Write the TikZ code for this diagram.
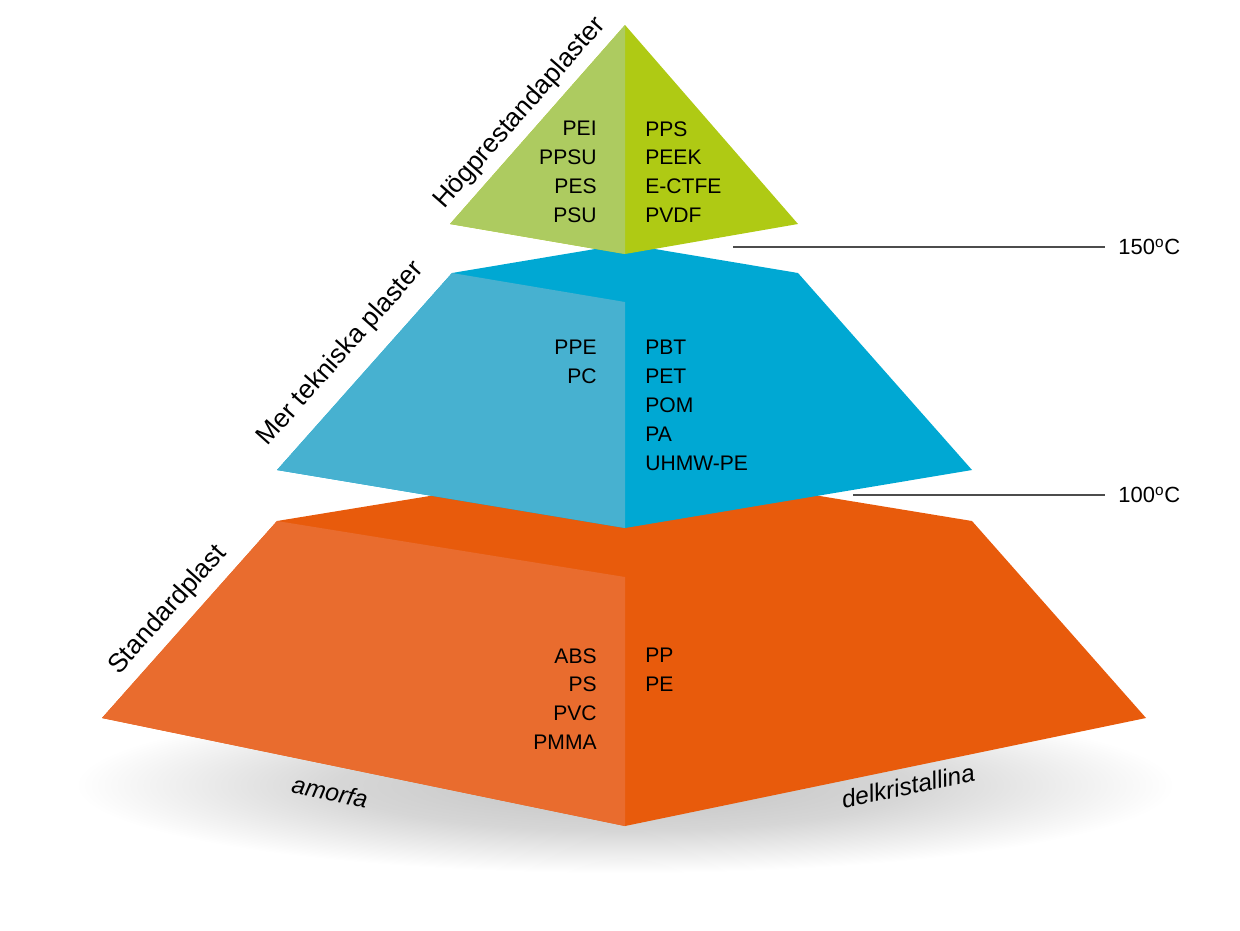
\documentclass[tikz,border=0pt]{standalone}
\usepackage{fontspec}
\setmainfont{Liberation Sans}
\usepackage{xcolor}
\usepackage{tikz}
\usetikzlibrary{positioning}
\definecolor{greenL}{HTML}{ADCB60}
\definecolor{greenR}{HTML}{AFCA14}
\definecolor{blueL}{HTML}{47B1D0}
\definecolor{blueR}{HTML}{00A8D3}
\definecolor{orangeL}{HTML}{E96C2E}
\definecolor{orangeR}{HTML}{E85B0C}
\pgfdeclareradialshading{floorshadow}{\pgfpoint{0bp}{0bp}}{color(0bp)=(black!24); color(13bp)=(black!16); color(25bp)=(white); color(50bp)=(white)}

\begin{document}
\begin{tikzpicture}[x=0.02cm,y=-0.02cm,
  plist/.style={font=\fontsize{12}{16.4}\selectfont,inner sep=0pt},
  lcol/.style={plist,align=right,anchor=north east},
  rcol/.style={plist,align=left,anchor=north west},
  tier/.style={font=\fontsize{15}{18}\selectfont,inner sep=0pt},
  basetxt/.style={font=\fontsize{14}{16}\selectfont\itshape,inner sep=0pt},
  temp/.style={font=\fontsize{12.5}{15}\selectfont,anchor=west,inner xsep=7.4pt,inner ysep=0pt},
  tline/.style={draw=black!70,line width=1.1pt}]
\useasboundingbox (0,0) rectangle (1240,930);
\shade[shading=floorshadow] (625,785) ellipse [x radius=550, y radius=88];
\fill[orangeR] (102,718) -- (277,521) -- (625,464) -- (972,521) -- (1146,718) -- (625,826) -- cycle;
\fill[orangeL] (277,521) -- (625,577) -- (625,826) -- (102,718) -- cycle;
\fill[blueR] (277,470) -- (452,273) -- (625,244) -- (798,273) -- (972,470) -- (625,528) -- cycle;
\fill[blueL] (452,273) -- (625,302) -- (625,528) -- (277,470) -- cycle;
\fill[greenR] (450,224) -- (625,25) -- (798,224) -- (625,254) -- cycle;
\fill[greenL] (625,25) -- (625,254) -- (450,224) -- cycle;

\node[lcol] (hpA) at (597,121) {PEI\\PPSU\\PES\\PSU};
\node[rcol] (hpB) at (645,121) {PPS\\PEEK\\E-CTFE\\PVDF};
\node[lcol] (mtA) at (597,340) {PPE\\PC};
\node[rcol] (mtB) at (645,340) {PBT\\PET\\POM\\PA\\UHMW-PE};
\node[lcol] (spA) at (597,648) {ABS\\PS\\PVC\\PMMA};
\node[rcol] (spB) at (645,648) {PP\\PE};

\node[tier,rotate=48.7] (hp) at (520,113) {Högprestandaplaster};
\node[tier,rotate=48.4] (mt) at (341,354) {Mer tekniska plaster};
\node[tier,rotate=48.4] (sp) at (168,610) {Standardplast};
\node[basetxt,rotate=-11.7] (am) at (330,792) {amorfa};
\node[basetxt,rotate=11.7] (dk) at (908,786) {delkristallina};

\coordinate (t150s) at (733,247);
\coordinate (t100s) at (853,495);
\node[temp] (t150) at (1105,247) {150\textsuperscript{o}C};
\node[temp] (t100) at (1105,495) {100\textsuperscript{o}C};
\draw[tline] (t150s) -- (t150.west);
\draw[tline] (t100s) -- (t100.west);
\end{tikzpicture}
\end{document}
